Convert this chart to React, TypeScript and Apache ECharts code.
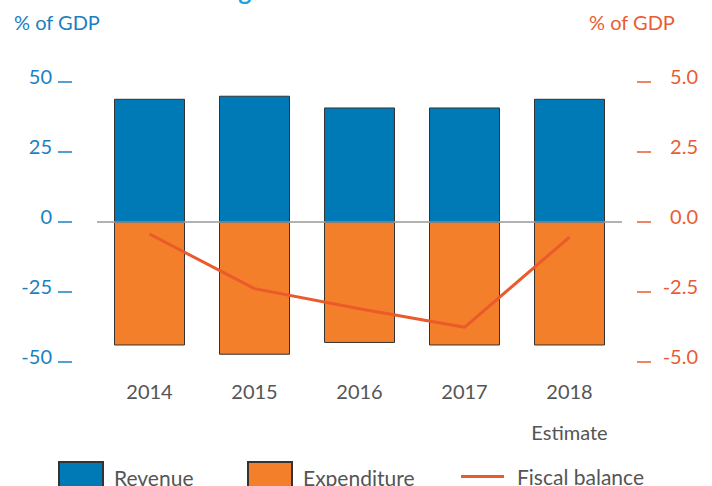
import React, { useEffect, useRef } from "react";
import * as echarts from "echarts";

const years = ["2014", "2015", "2016", "2017", "2018"];
const revenue = [44.0, 45.1, 40.9, 40.9, 44.0];
const expenditure = [-44.1, -47.4, -43.2, -44.1, -44.1];
const fiscalBalance = [-0.43, -2.38, -3.1, -3.76, -0.54];
const leftTicks = [-50, -25, 0, 25, 50];
const rightTicks = [-5, -2.5, 0, 2.5, 5];

const BLUE = "#007ab6";
const ORANGE = "#f47f2a";
const RED = "#ea5a2b";
const AXIS_BLUE = "#1a80c0";
const AXIS_RED = "#eb5b33";
const GREY = "#555555";
const FONT = "Lato";

export default function App() {
  const ref = useRef<HTMLDivElement>(null);
  useEffect(() => {
    if (!ref.current) return;
    const chart = echarts.init(ref.current, null, { renderer: "svg" });
    const legendBase = {
      padding: 0,
      itemHeight: 30,
      itemGap: 0,
    };
    chart.setOption({
      animation: false,
      textStyle: { fontFamily: FONT },
      grid: { left: 97, right: 90, top: 82, bottom: 124, containLabel: false },
      graphic: [
        {
          type: "text",
          x: 495,
          y: -22.5,
          style: {
            text: "Figure 2.1: Fiscal balance",
            fill: "#1ea3e0",
            font: `bold 25px ${FONT}`,
            align: "right",
            verticalAlign: "top",
          },
        },
        {
          type: "text",
          x: 14,
          y: 12,
          style: { text: "% of GDP", fill: AXIS_BLUE, font: `20px ${FONT}` },
        },
        {
          type: "text",
          x: 589,
          y: 12,
          style: { text: "% of GDP", fill: AXIS_RED, font: `20px ${FONT}` },
        },
      ],
      legend: [
        {
          ...legendBase,
          top: 461,
          data: [{ name: "Revenue", icon: "rect" }],
          left: 58,
          itemWidth: 44,
          textStyle: { color: GREY, fontSize: 21, fontFamily: FONT, padding: [0, 0, 0, 6] },
        },
        {
          ...legendBase,
          top: 461,
          data: [{ name: "Expenditure", icon: "rect" }],
          left: 247,
          itemWidth: 44,
          textStyle: { color: GREY, fontSize: 21, fontFamily: FONT, padding: [0, 0, 0, 6] },
        },
        {
          ...legendBase,
          top: 466,
          data: [
            { name: "Fiscal balance", icon: "path://M0,0 L43,0 L43,3 L0,3 Z" },
          ],
          left: 461,
          itemWidth: 43,
          textStyle: { color: GREY, fontSize: 21, fontFamily: FONT, padding: [0, 0, 0, 8] },
        },
      ],
      xAxis: {
        type: "category",
        data: years,
        axisLine: { show: false },
        axisTick: { show: false },
        axisLabel: {
          color: GREY,
          fontSize: 20,
          lineHeight: 41,
          margin: 8,
          formatter: (v: string) => (v === "2018" ? "2018\nEstimate" : v),
        },
      },
      yAxis: [
        {
          type: "value",
          min: -50,
          max: 50,
          interval: 25,
          offset: 25,
          position: "left",
          axisLine: { show: false },
          axisTick: {
            show: true,
            length: 14,
            lineStyle: { color: AXIS_BLUE, width: 1.5 },
          },
          splitLine: { show: false },
          axisLabel: {
            color: AXIS_BLUE,
            fontSize: 20,
            margin: 20,
            verticalAlign: "bottom",
            lineHeight: 12,
            formatter: (v: number) => (leftTicks.includes(v) ? String(v) : ""),
          },
        },
        {
          type: "value",
          min: -5,
          max: 5,
          interval: 2.5,
          offset: 15,
          position: "right",
          axisLine: { show: false },
          axisTick: {
            show: true,
            length: 14,
            lineStyle: { color: AXIS_RED, width: 1.5 },
          },
          splitLine: { show: false },
          axisLabel: {
            color: AXIS_RED,
            fontSize: 20,
            margin: 61,
            align: "right",
            verticalAlign: "bottom",
            lineHeight: 12,
            formatter: (v: number) =>
              rightTicks.includes(v) ? v.toFixed(1) : "",
          },
        },
      ],
      series: [
        {
          name: "Revenue",
          type: "bar",
          data: revenue,
          barWidth: 71,
          barGap: "-100%",
          itemStyle: { color: BLUE, borderColor: "#333", borderWidth: 1 },
          markLine: {
            silent: true,
            symbol: "none",
            label: { show: false },
            lineStyle: { color: "#999", width: 1.5, type: "solid" },
            data: [{ yAxis: 0 }],
          },
          z: 2,
        },
        {
          name: "Expenditure",
          type: "bar",
          data: expenditure,
          barWidth: 71,
          barGap: "-100%",
          itemStyle: { color: ORANGE, borderColor: "#333", borderWidth: 1 },
          z: 2,
        },
        {
          name: "Fiscal balance",
          type: "line",
          yAxisIndex: 1,
          data: fiscalBalance,
          symbol: "none",
          lineStyle: { color: RED, width: 3 },
          itemStyle: { color: RED },
          z: 5,
        },
      ],
    });
    return () => chart.dispose();
  }, []);
  return <div ref={ref} style={{ width: 712, height: 486, position: "absolute", left: 0, top: 0 }} />;
}
